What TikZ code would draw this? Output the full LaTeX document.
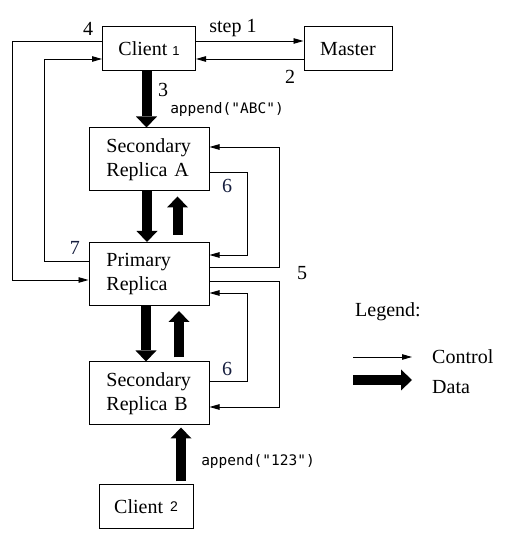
\documentclass[tikz,border=0pt]{standalone}
\usepackage{fontspec}
\setmainfont{Liberation Serif}
\newfontfamily\codefont{DejaVu Sans Mono}
\newfontfamily\digitfont{Liberation Sans}
\usetikzlibrary{arrows.meta}

\begin{document}
\begin{tikzpicture}[x=1pt,y=1pt]
\definecolor{numblue}{RGB}{22,30,62};
\tikzstyle{every node}=[font=\fontsize{20}{24}\selectfont, inner sep=0pt];
\tikzstyle{box}=[draw, line width=1pt, minimum height=44pt];
\tikzstyle{replica}=[box, minimum height=63pt, text width=85pt, inner xsep=17.5pt, align=left];
\tikzstyle{ctrl}=[line width=0.9pt, -{Triangle[length=10pt,width=5.5pt]}];
\tikzstyle{data}=[line width=10pt, -{Triangle[length=11pt,width=21pt,line width=0pt]}];
\useasboundingbox (0,0) rectangle (505,550);
\node[box, minimum width=93pt] (client1) at (149,501) {Client {\digitfont\fontsize{13}{16}\selectfont 1}};
\node[box, minimum width=88pt] (master) at (348,501) {Master};
\foreach \n/\y/\t in {secA/390.5/{Secondary\\Replica A}, prim/276/{Primary\\Replica}, secB/156.5/{Secondary\\Replica B}}
\node[replica] (\n) at (149,\y) {\t};
\node[box, minimum width=94pt] (client2) at (146,43) {Client\hspace{7pt}\raisebox{2.5pt}{\digitfont\fontsize{14}{17}\selectfont 2}};
\draw[ctrl] ([yshift=8pt]client1.east) -- ([yshift=8pt]master.west);
\draw[ctrl] ([yshift=-10pt]master.west) -- ([yshift=-10pt]client1.east);
\draw[ctrl] ([yshift=8pt]client1.west) -- ++(-90,0) |- ([yshift=-6pt]prim.west);
\draw[ctrl] ([yshift=13pt]prim.west) -- ++(-44,0) |- ([yshift=-10pt]client1.west);
\draw[ctrl] ([yshift=7pt]prim.east) -- ++(70,0) |- ([yshift=12.5pt]secA.east);
\draw[ctrl] ([yshift=-12.5pt]secA.east) -- ++(38,0) |- ([yshift=19pt]prim.east);
\draw[ctrl] ([yshift=-7pt]prim.east) -- ++(70,0) |- ([yshift=-13.5pt]secB.east);
\draw[ctrl] ([yshift=12.5pt]secB.east) -- ++(38,0) |- ([yshift=-19pt]prim.east);
\draw[data] ([xshift=-2.5pt]client1.south) -- ([xshift=-2.5pt]secA.north);
\draw[data] ([xshift=-2pt]secA.south) -- ([xshift=-2pt]prim.north);
\draw[data] ([xshift=28.5pt,yshift=7pt]prim.north) -- ([xshift=28.5pt,yshift=-5pt]secA.south);
\draw[data] ([xshift=-3pt]prim.south) -- ([xshift=-3pt]secB.north);
\draw[data] ([xshift=30pt,yshift=4pt]secB.north) -- ([xshift=30pt,yshift=-5pt]prim.south);
\draw[data] ([xshift=35pt,yshift=3pt]client2.north) -- ([xshift=32pt,yshift=-2pt]secB.south);
\node (step1) at (233,522) {step 1};
\node (two) at (290,473) {2};
\node (three) at (163,460) {3};
\node (four) at (88,521) {4};
\node (five) at (302,277) {5};
\node[numblue] (sixA) at (227,364) {6};
\node[numblue] (sixB) at (227,181) {6};
\node[numblue] (seven) at (75,302) {7};
\node[font=\codefont\fontsize{14.5}{17}\selectfont] (abc) at (227,440) {append("ABC")};
\node[font=\codefont\fontsize{14.5}{17}\selectfont] (num) at (258,89) {append("123")};
\node (legend) at (388,238) {Legend:};
\coordinate (ctrlA) at (353,193);
\coordinate (ctrlB) at (412,193);
\coordinate (dataA) at (353,170);
\coordinate (dataB) at (412,170);
\draw[ctrl] (ctrlA) -- (ctrlB);
\draw[data] (dataA) -- (dataB);
\node[anchor=west] (lctrl) at (432,193) {Control};
\node[anchor=west] (ldata) at (432,163) {Data};
\end{tikzpicture}
\end{document}
